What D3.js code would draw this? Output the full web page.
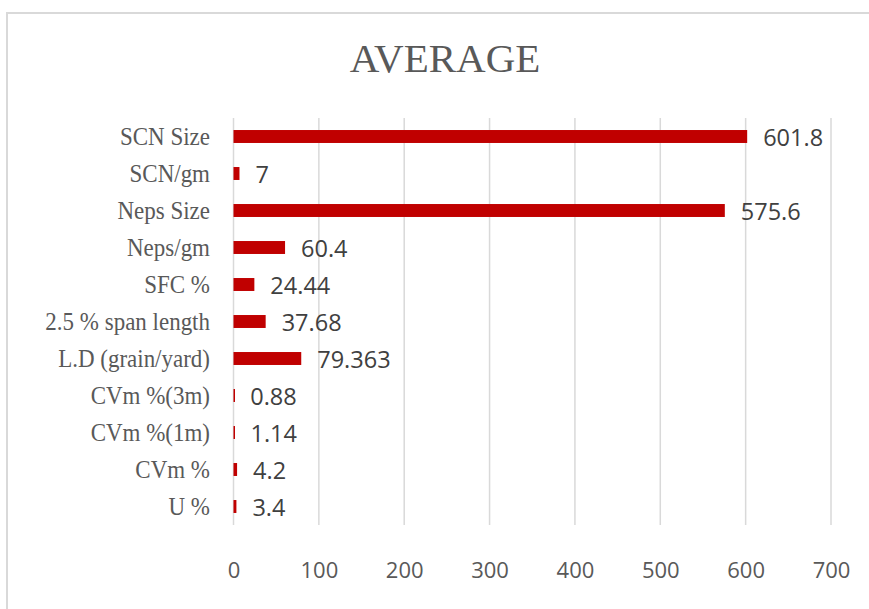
<!DOCTYPE html>
<html><head><meta charset="utf-8">
<script src="https://cdn.jsdelivr.net/npm/d3@7"></script>
<style>html,body{margin:0;padding:0;background:#fff;}svg{display:block;}</style>
</head><body>
<svg id="chart" width="869" height="609"></svg>
<script>
const categories = ["SCN Size","SCN/gm","Neps Size","Neps/gm","SFC %","2.5 % span length","L.D (grain/yard)","CVm %(3m)","CVm %(1m)","CVm %","U %"];
const values = [601.8, 7, 575.6, 60.4, 24.44, 37.68, 79.363, 0.88, 1.14, 4.2, 3.4];
const valueLabels = ["601.8","7","575.6","60.4","24.44","37.68","79.363","0.88","1.14","4.2","3.4"];
const xTicks = [0,100,200,300,400,500,600,700];
const title = "AVERAGE";

const svg = d3.select("#chart");
// outer frame
svg.append("rect").attr("x",7).attr("y",13).attr("width",900).attr("height",700)
  .attr("fill","#fff").attr("stroke","#d9d9d9").attr("stroke-width",2);

const x = d3.scaleLinear().domain([0,700]).range([233.5,831]);
const y = d3.scaleBand().domain(categories).range([118,525]).paddingInner(0.65).paddingOuter(0.325);

// gridlines
svg.append("g").selectAll("line").data(xTicks).join("line")
  .attr("x1",d=>x(d)).attr("x2",d=>x(d)).attr("y1",118).attr("y2",525)
  .attr("stroke","#d9d9d9").attr("stroke-width",1.5);

// x axis labels
const xAxis = d3.axisBottom(x).tickValues(xTicks).tickSize(0).tickPadding(0);
const gx = svg.append("g").attr("transform","translate(0,562)").call(xAxis);
gx.select(".domain").remove();
gx.selectAll("text").attr("font-family","'Open Sans', sans-serif").attr("font-size",22)
  .attr("fill","#595959").attr("dy","0.71em").attr("y",0);

// y axis labels
const yAxis = d3.axisLeft(y).tickSize(0).tickPadding(0);
const gy = svg.append("g").attr("transform","translate(210,0)").call(yAxis);
gy.select(".domain").remove();
gy.selectAll("text").attr("font-family","'Liberation Serif', 'Times New Roman', serif").attr("font-size",23)
  .attr("fill","#595959").attr("dy","0.33em").attr("transform","scale(1,1.1)");

// bars
svg.append("g").selectAll("rect").data(values).join("rect")
  .attr("x",x(0)).attr("y",(d,i)=>y(categories[i]))
  .attr("width",d=>Math.max(1.5, x(d)-x(0))).attr("height",y.bandwidth())
  .attr("fill","#c00000");

// value labels
svg.append("g").selectAll("text").data(values).join("text")
  .attr("x",d=>x(d)+16).attr("y",(d,i)=>y(categories[i])+y.bandwidth()/2 + 1.5)
  .attr("dy","0.36em")
  .attr("font-family","'Open Sans', sans-serif").attr("font-size",23.5)
  .attr("fill","#404040")
  .text((d,i)=>valueLabels[i]);

// title
svg.append("text").attr("x",445).attr("y",72).attr("text-anchor","middle")
  .attr("font-family","'Liberation Serif', 'Times New Roman', serif").attr("font-size",41)
  .attr("fill","#595959").text(title);
</script>
</body></html>
